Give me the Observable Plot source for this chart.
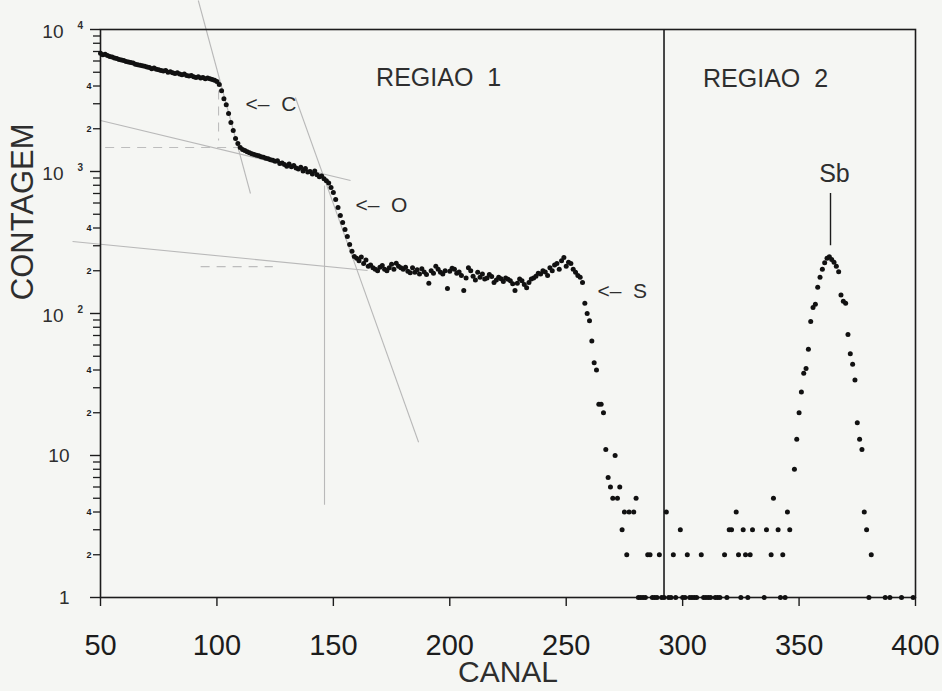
<!DOCTYPE html>
<html>
<head>
<meta charset="utf-8">
<script src="https://cdn.jsdelivr.net/npm/d3@7"></script>
<script src="https://cdn.jsdelivr.net/npm/@observablehq/plot@0.6"></script>
<style>
  html, body { margin: 0; padding: 0; background: #f5f6f3; }
  #chart svg { display: block; }
  #chart text { white-space: pre; }
</style>
</head>
<body>
<div id="chart"></div>
<script>
// ---------- DATA ----------
// Dense part of the spectrum: one count per channel, channels 50..273
const canalInicio = 50;
const contagemA = [
  6800, 6650, 6700, 6550, 6450, 6400, 6300, 6250, 6150, 6100,
  6050, 5950, 5900, 5850, 5800, 5700, 5650, 5600, 5550, 5500,
  5450, 5400, 5300, 5350, 5250, 5200, 5150, 5100, 5150, 5000,
  5050, 4950, 4900, 4950, 4850, 4800, 4850, 4750, 4700, 4750,
  4650, 4600, 4650, 4550, 4600, 4500, 4550, 4500, 4450, 4400,
  // 100..115  (C edge)
  4300, 4100, 3700, 3250, 2950, 2560, 2210, 1945, 1708, 1573, 1475, 1428, 1405, 1380, 1357, 1335,
  // 116..148
  1320, 1300, 1290, 1270, 1260, 1240, 1230, 1210, 1200, 1180, 1190, 1140, 1150, 1120, 1090, 1130,
  1080, 1100, 1060, 1040, 1070, 1010, 1050, 990, 1000, 960, 1010, 950, 920, 930, 890, 860, 830,
  // 149..159  (O edge)
  771, 711, 635, 557, 490, 437, 391, 349, 306, 274, 252,
  // 160..257  (plateau)
  245, 235, 250, 225, 238, 215, 220, 210, 205, 200,
  212, 218, 205, 200, 210, 222, 205, 226, 215, 210,
  205, 212, 198, 194, 210, 195, 203, 190, 207, 196,
  188, 163, 200, 192, 215, 205, 195, 190, 200, 150,
  198, 208, 205, 192, 196, 185, 145, 178, 210, 200,
  183, 172, 195, 180, 190, 175, 178, 188, 182, 165,
  172, 180, 176, 168, 178, 174, 170, 162, 145, 163,
  175, 170, 160, 152, 165, 175, 178, 183, 192, 190,
  200, 196, 185, 210, 200, 220, 225, 205, 235, 248,
  215, 230, 225, 205, 195, 185, 180, 165,
  // 258..273  (S edge)
  118, 100, 89, 64, 45, 40, 23, 23, 20, 11, 7, 6, 5, 10, 5, 6
];

// Sparse part: channels with counts (low background + Sb peak)
const canalB = [
  274, 275, 276, 277, 279, 280, 281, 282, 283, 284, 285, 286, 287, 288, 289, 290,
  291, 292, 293, 294, 295, 296, 297, 299, 300, 301, 302, 303, 304, 305, 306, 308,
  309, 310, 311, 312, 314, 315, 316, 318, 319, 320, 321, 323, 324, 325, 326, 327,
  328, 329, 330, 335, 336, 338, 339, 341, 342, 343, 344, 345, 346,
  348, 349, 350, 351, 352, 353, 354, 355, 356, 357, 358, 359, 360, 361, 362, 363,
  364, 365, 366, 367, 368, 369, 370, 371, 372, 373, 374, 375, 376, 377, 378, 379,
  380, 381, 387, 389, 394, 399
];
const contagemB = [
  3, 4, 2, 4, 4, 5, 1, 1, 1, 1, 2, 2, 1, 1, 1, 2,
  1, 1, 4, 1, 1, 2, 1, 3, 1, 1, 2, 1, 1, 1, 1, 2,
  1, 1, 1, 1, 1, 1, 1, 2, 1, 3, 3, 4, 2, 1, 3, 2,
  1, 2, 3, 1, 3, 2, 5, 3, 1, 2, 1, 4, 3,
  8, 13, 20, 28, 38, 41, 56, 88, 110, 116, 153, 180, 205, 228, 245, 251,
  240, 230, 215, 197, 135, 122, 118, 71, 52, 44, 34, 17, 13, 11, 4, 3,
  1, 2, 1, 1, 1, 1
];

// Axis ticks and labels
const xTicks = [50, 100, 150, 200, 250, 300, 350, 400];
const yMajor = [1, 10, 100, 1000, 10000];
const yMajorBase = ["1", "10", "10", "10", "10"];
const yMajorExp = ["", "", "2", "3", "4"];
const yMinor = [2, 3, 4, 5, 6, 7, 8, 9,
  20, 30, 40, 50, 60, 70, 80, 90,
  200, 300, 400, 500, 600, 700, 800, 900,
  2000, 3000, 4000, 5000, 6000, 7000, 8000, 9000];
const yMinorLabels = ["2", "", "4", "", "6", "", "8", "",
  "2", "", "4", "", "6", "", "8", "",
  "2", "", "4", "", "6", "", "8", "",
  "2", "", "4", "", "6", "", "8", ""];

// Region boundary and peak marker
const limiteRegiao = [292];
const picoSb = {canal: 363.5, de: 300, ate: 700};

// Hand-drawn guide lines (channel, count endpoints)
const guiasSolidas = [
  {x1: 92, y1: 16000, x2: 114.4, y2: 700},
  {x1: 50, y1: 2287, x2: 157.4, y2: 864},
  {x1: 133.7, y1: 3320, x2: 186.6, y2: 12.4},
  {x1: 146.2, y1: 797, x2: 146.2, y2: 4.5},
  {x1: 38, y1: 321, x2: 164.7, y2: 201}
];
const guiasTracejadas = [
  {x1: 52, y1: 1476, x2: 110, y2: 1476},
  {x1: 93, y1: 214, x2: 124, y2: 214},
  {x1: 100.7, y1: 3720, x2: 100.7, y2: 1652}
];

// Annotation texts
const rotulosRegiao = [
  {texto: "REGIAO  1", canal: 195.2, contagem: 4520},
  {texto: "REGIAO  2", canal: 335.6, contagem: 4450}
];
const rotulosSeta = [
  {texto: "<–  C", canal: 112.3, contagem: 2965},
  {texto: "<–  O", canal: 159.5, contagem: 576},
  {texto: "<–  S", canal: 263.4, contagem: 143}
];
const rotuloSb = [{texto: "Sb", canal: 365.2, contagem: 953}];

// ---------- BUILD ----------
const espectro = [
  ...contagemA.map((c, i) => ({canal: canalInicio + i, contagem: c})),
  ...canalB.map((ch, i) => ({canal: ch, contagem: contagemB[i]}))
];
const majors = yMajor.map((v, i) => ({v, base: yMajorBase[i], exp: yMajorExp[i]}));
const majorsPlain = majors.filter(d => d.exp === "");
const majorsPow = majors.filter(d => d.exp !== "");
const minorLabel = new Map(yMinor.map((v, i) => [v, yMinorLabels[i]]));

const ink = "#1c1c1c";
const textInk = "#2e2e2e";
const font = "Liberation Sans, Arial, sans-serif";

const chart = Plot.plot({
  width: 942,
  height: 691,
  marginLeft: 100,
  marginRight: 27,
  marginTop: 29,
  marginBottom: 94,
  x: {domain: [50, 400]},
  y: {type: "log", domain: [1, 10000]},
  style: {background: "#f5f6f3", fontFamily: font, color: textInk},
  marks: [
    // guide lines
    Plot.link(guiasSolidas, {x1: "x1", y1: "y1", x2: "x2", y2: "y2", stroke: "#b9b9b9", strokeWidth: 1.1}),
    Plot.link(guiasTracejadas, {x1: "x1", y1: "y1", x2: "x2", y2: "y2", stroke: "#bdbdbd", strokeWidth: 1.1, strokeDasharray: "9,7"}),
    // frame and region limit
    Plot.frame({stroke: ink, strokeWidth: 1.6}),
    Plot.ruleX(limiteRegiao, {stroke: ink, strokeWidth: 1.6}),
    // axes
    Plot.axisX(xTicks, {tickSize: 9, tickPadding: 28, fontSize: 29, label: null, color: ink, strokeWidth: 1.4, tickFormat: d => String(d)}),
    Plot.axisY(yMajor, {tickSize: 10, tickFormat: () => "", label: null, color: ink, strokeWidth: 1.4}),
    Plot.axisY(yMinor, {tickSize: 7, tickPadding: 2, fontSize: 9, fontWeight: "bold", label: null, color: ink, strokeWidth: 1.3,
      tickFormat: d => minorLabel.get(d)}),
    // major y labels: "1", "10", and 10 with superscript exponent
    Plot.text(majorsPlain, {y: "v", frameAnchor: "left", dx: -31, text: "base",
      textAnchor: "end", fontSize: 19, fill: textInk}),
    Plot.text(majorsPow, {y: "v", frameAnchor: "left", dx: -37, dy: 2, text: "base",
      textAnchor: "end", fontSize: 19, fill: textInk}),
    Plot.text(majorsPow, {y: "v", frameAnchor: "left", dx: -23, dy: -4, text: "exp",
      textAnchor: "start", fontSize: 10, fontWeight: "bold", fill: textInk}),
    // data
    Plot.dot(espectro, {x: "canal", y: "contagem", r: 2.5, fill: "#111", stroke: null}),
    // Sb marker
    Plot.ruleX([picoSb], {x: "canal", y1: "de", y2: "ate", stroke: ink, strokeWidth: 1.4}),
    // annotations
    Plot.text(rotulosRegiao, {x: "canal", y: "contagem", text: "texto", fontSize: 25, fill: textInk}),
    Plot.text(rotulosSeta, {x: "canal", y: "contagem", text: "texto", fontSize: 21, textAnchor: "start", fill: textInk}),
    Plot.text(rotuloSb, {x: "canal", y: "contagem", text: "texto", fontSize: 25, fill: textInk}),
    // axis titles
    Plot.text(["CANAL"], {frameAnchor: "bottom", dy: 75, lineAnchor: "middle", fontSize: 30, fill: textInk}),
    Plot.text([124], {y: d => d, frameAnchor: "left", dx: -77, rotate: -90, lineAnchor: "middle",
      text: () => "CONTAGEM", fontSize: 31, fill: textInk})
  ]
});

document.getElementById("chart").appendChild(chart);
</script>
</body>
</html>
